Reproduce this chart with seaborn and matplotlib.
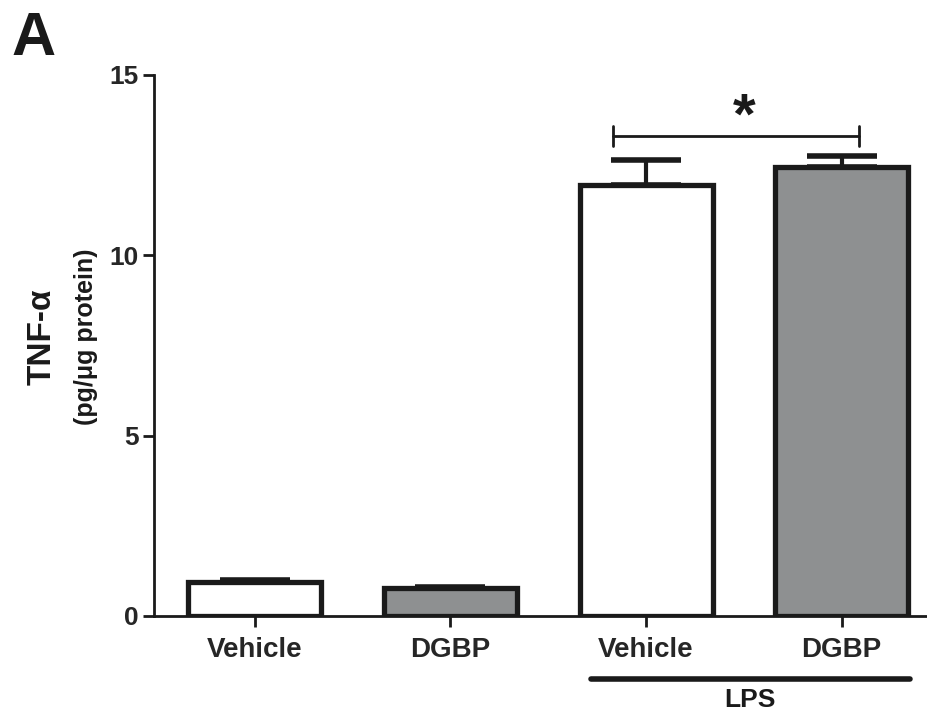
import pandas as pd
import seaborn as sns
import matplotlib.pyplot as plt

# data
groups = ['Vehicle', 'DGBP', 'LPS Vehicle', 'LPS DGBP']
tick_labels = ['Vehicle', 'DGBP', 'Vehicle', 'DGBP']
tnf_mean = [0.93, 0.76, 11.95, 12.45]
tnf_sem = [0.07, 0.05, 0.70, 0.30]
bar_colors = ['white', '#8e9091', 'white', '#8e9091']

sns.set_style('ticks')
plt.rcParams['font.family'] = ['Liberation Sans', 'DejaVu Sans']

df = pd.DataFrame({'group': groups, 'tnf': tnf_mean})

fig = plt.figure(figsize=(9.28, 7.17), dpi=100)
ax = fig.add_axes([0.166, 0.141, 0.84, 0.7545])

sns.barplot(data=df, x='group', y='tnf', hue='group', order=groups,
            palette=dict(zip(groups, bar_colors)), width=0.68,
            edgecolor='#1a1a1a', linewidth=3.8, legend=False, ax=ax)

# upper error bars only
ax.errorbar(range(len(groups)), tnf_mean, yerr=[[0] * 4, tnf_sem], fmt='none',
            ecolor='#1a1a1a', elinewidth=3, capsize=25, capthick=4, zorder=1)

ax.set_ylim(0, 15)
ax.set_xlim(-0.515, 3.47)
ax.set_yticks([0, 5, 10, 15])
ax.set_xticks(range(4))
ax.set_xticklabels(tick_labels, fontsize=20, fontweight='bold')
ax.set_yticklabels(['0', '5', '10', '15'], fontsize=19, fontweight='bold')
ax.tick_params(axis='both', length=8, width=2, color='#1a1a1a', pad=3)
ax.tick_params(axis='x', pad=7)
ax.set_xlabel('')
ax.set_ylabel('')
for s in ['top', 'right']:
    ax.spines[s].set_visible(False)
for s in ['left', 'bottom']:
    ax.spines[s].set_linewidth(2)
    ax.spines[s].set_color('#1a1a1a')

# y axis title
fig.text(0.045, 0.53, 'TNF-α', rotation=90, fontsize=24, fontweight='bold',
         ha='center', va='center', color='#1a1a1a')
fig.text(0.093, 0.53, '(pg/μg protein)', rotation=90, fontsize=18, fontweight='bold',
         ha='center', va='center', color='#1a1a1a')

# significance bracket
ax.plot([2 - 0.17, 3 + 0.09], [13.3, 13.3], color='#1a1a1a', lw=2, clip_on=False)
for xx in [2 - 0.17, 3 + 0.09]:
    ax.plot([xx, xx], [13.03, 13.58], color='#1a1a1a', lw=2, clip_on=False)
ax.text(2.5, 13.05, '*', ha='center', va='bottom', fontsize=42, fontweight='bold',
        color='#1a1a1a')

# LPS group line below the axis
lps_y = -(679 - 616) / 541 * 15
ax.plot([1.72, 3.35], [lps_y, lps_y], color='#1a1a1a', lw=4,
        solid_capstyle='round', clip_on=False)
ax.text(2.53, lps_y - 0.25, 'LPS', ha='center', va='top', fontsize=19,
        fontweight='bold', color='#1a1a1a')

# panel letter
fig.text(0.012, 0.985, 'A', fontsize=44, fontweight='bold', ha='left', va='top',
         color='#1a1a1a')

fig.savefig('out.png', dpi=100)
